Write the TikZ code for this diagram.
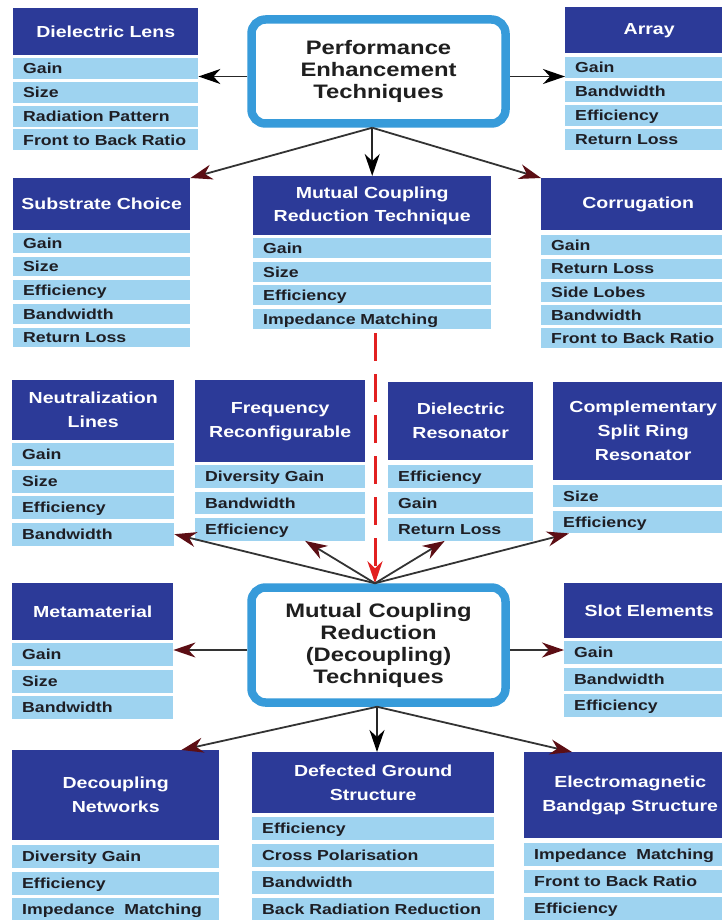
\documentclass[tikz,border=0pt]{standalone}
\usepackage{fontspec}
\setmainfont{Liberation Sans}[FakeStretch=1.22]
\usetikzlibrary{arrows.meta}

\definecolor{hdrblue}{RGB}{44,58,152}
\definecolor{rowblue}{RGB}{158,211,240}
\definecolor{rowtext}{RGB}{30,30,36}
\definecolor{ringblue}{RGB}{55,155,218}
\definecolor{headred}{RGB}{92,14,20}
\definecolor{dashred}{RGB}{226,32,32}

\tikzset{
  hdr/.style={fill=hdrblue, text=white, anchor=north west, inner sep=0pt,
    align=center, font=\fontsize{16}{24}\selectfont\bfseries},
  rowbox/.style={fill=rowblue, text=rowtext, anchor=north west, inner ysep=0pt,
    inner xsep=10pt, align=left, text height=10.5pt, text depth=0pt,
    font=\fontsize{14.5}{17}\selectfont\bfseries},
  hub/.style={draw=ringblue, line width=8.5pt, fill=white, rounded corners=14pt,
    align=center, outer sep=4.25pt, inner sep=0pt, text=black!88,
    font=\fontsize{19.5}{22}\selectfont\bfseries},
  headtip/.style={-{Stealth[length=22pt,width=15pt,inset=7pt,#1]}},
  link/.style={draw=black!85, line width=1.8pt, headtip={color=black}},
  linkred/.style={draw=black!80, line width=1.8pt, headtip={color=headred}},
  dashlink/.style={draw=dashred, line width=3pt, dash pattern=on 28pt off 13pt,
    headtip={color=dashred}},
}

% rows of a property list: prefix, x, y of first row, width, pitch, row height, items
\newcommand\itemlist[7]{%
  \pgfmathsetmacro\rowtw{#4-20}%
  \foreach \txt [count=\k] in {#7} {
    \node[rowbox, text width=\rowtw pt, minimum height=#6pt] (#1-\k)
      at (#2, {#3+(\k-1)*#5}) {\txt};
  }%
}

\begin{document}
\begin{tikzpicture}[x=1pt,y=-1pt]
\useasboundingbox (0,0) rectangle (722,920);
\clip (0,0) rectangle (722,920);
\fill[white] (0,0) rectangle (722,920);

% ---- top hub ----
\node[hub, minimum width=254pt, minimum height=104pt] (pe) at (378.5,71.5)
  {Performance\\Enhancement\\Techniques};

% ---- top row ----
\node[hdr, minimum width=185pt, minimum height=47pt] (dl) at (13,8) {Dielectric Lens};
\itemlist{dl}{13}{58}{185}{23.7}{21}{Gain,Size,Radiation Pattern,Front to Back Ratio}

\node[hdr, minimum width=168pt, minimum height=46pt] (ar) at (565,7) {Array};
\itemlist{ar}{565}{57}{168}{24}{21}{Gain,Bandwidth,Efficiency,Return Loss}

% ---- second row ----
\node[hdr, minimum width=177pt, minimum height=52pt] (sc) at (13,178) {Substrate Choice};
\itemlist{sc}{13}{233}{177}{23.6}{19.5}{Gain,Size,Efficiency,Bandwidth,Return Loss}

\node[hdr, minimum width=238pt, minimum height=59pt, font=\fontsize{16}{23}\selectfont\bfseries]
  (mt) at (253,176) {Mutual Coupling\\Reduction Technique};
\itemlist{mt}{253}{238}{238}{23.6}{20}{Gain,Size,Efficiency,Impedance Matching}

\node[hdr, minimum width=194pt, minimum height=52pt] (co) at (541,178) {Corrugation};
\itemlist{co}{541}{235}{194}{23.3}{20}{Gain,Return Loss,Side Lobes,Bandwidth,Front to Back Ratio}

% ---- third row ----
\node[hdr, minimum width=162pt, minimum height=60pt] (nl) at (12,380) {Neutralization\\Lines};
\itemlist{nl}{12}{443}{162}{26.5}{23}{Gain,Size,Efficiency,Bandwidth}

\node[hdr, minimum width=170pt, minimum height=82pt] (fr) at (195,380) {Frequency\\Reconfigurable};
\itemlist{fr}{195}{465}{170}{26.5}{22.5}{Diversity Gain,Bandwidth,Efficiency}

\node[hdr, minimum width=145pt, minimum height=78pt] (dr) at (388,382) {Dielectric\\Resonator};
\itemlist{dr}{388}{465}{145}{26.5}{22.5}{Efficiency,Gain,Return Loss}

\node[hdr, minimum width=180pt, minimum height=98pt] (cs) at (553,382) {Complementary\\Split Ring\\Resonator};
\itemlist{cs}{553}{485}{180}{26}{22}{Size,Efficiency}

% ---- bottom hub ----
\node[hub, minimum width=254pt, minimum height=115pt] (mc) at (378.5,645)
  {Mutual Coupling\\Reduction\\(Decoupling)\\Techniques};

\node[hdr, minimum width=161pt, minimum height=57pt] (mm) at (12,583) {Metamaterial};
\itemlist{mm}{12}{643}{161}{26.5}{23}{Gain,Size,Bandwidth}

\node[hdr, minimum width=170pt, minimum height=55pt] (se) at (564,583) {Slot Elements};
\itemlist{se}{564}{641}{170}{26.5}{23}{Gain,Bandwidth,Efficiency}

% ---- bottom row ----
\node[hdr, minimum width=207pt, minimum height=90pt] (dn) at (12,750) {Decoupling\\Networks};
\itemlist{dn}{12}{845}{207}{26.5}{23}{Diversity Gain,Efficiency,Impedance~~Matching}

\node[hdr, minimum width=242pt, minimum height=61pt] (dg) at (252,752) {Defected Ground\\Structure};
\itemlist{dg}{252}{817}{242}{27}{23}{Efficiency,Cross Polarisation,Bandwidth,Back Radiation Reduction}

\node[hdr, minimum width=212pt, minimum height=86pt] (eb) at (524,752) {Electromagnetic\\Bandgap Structure};
\itemlist{eb}{524}{843}{212}{27}{23}{Impedance~~Matching,Front to Back Ratio,Efficiency}

% ---- connectors from the top hub ----
\path ([yshift=-5pt]pe.west) coordinate (peL) ([yshift=-5pt]pe.east) coordinate (peR);
\draw[link] (peL) -- (peL -| dl-1.east);
\draw[link] (peR) -- (peR -| ar-1.west);
\coordinate (pb) at (mt.north |- pe.south);
\draw[linkred] (pb) -- (sc.north east);
\draw[link] (pb) -- (mt.north);
\draw[linkred] (pb) -- (co.north west);

% ---- dashed link between the two hubs ----
\coordinate (mtop) at ([xshift=-3.5pt]mc.north);
\path ([yshift=-4pt]mt-4.south) coordinate (d0);
\draw[dashlink] (d0 -| mtop) -- (mtop);

% ---- connectors from the bottom hub ----
\draw[linkred] (mtop) -- (nl-4.east);
\draw[linkred] (mtop) -- ([xshift=25pt]fr-3.south);
\draw[linkred] (mtop) -- ([xshift=-16pt]dr-3.south);
\draw[linkred] (mtop) -- ([xshift=16pt]cs-2.south west);

\path ([yshift=-5pt]mc.west) coordinate (mcL) ([yshift=-5pt]mc.east) coordinate (mcR);
\draw[linkred] (mcL) -- (mcL -| mm-1.east);
\draw[linkred] (mcR) -- (mcR -| se-1.west);

\coordinate (mbot) at ([xshift=-1.5pt]mc.south);
\draw[linkred] (mbot) -- ([xshift=-38pt]dn.north east);
\draw[link] (mbot) -- (mbot |- dg.north);
\draw[linkred] (mbot) -- ([xshift=48pt]eb.north west);
\end{tikzpicture}
\end{document}
